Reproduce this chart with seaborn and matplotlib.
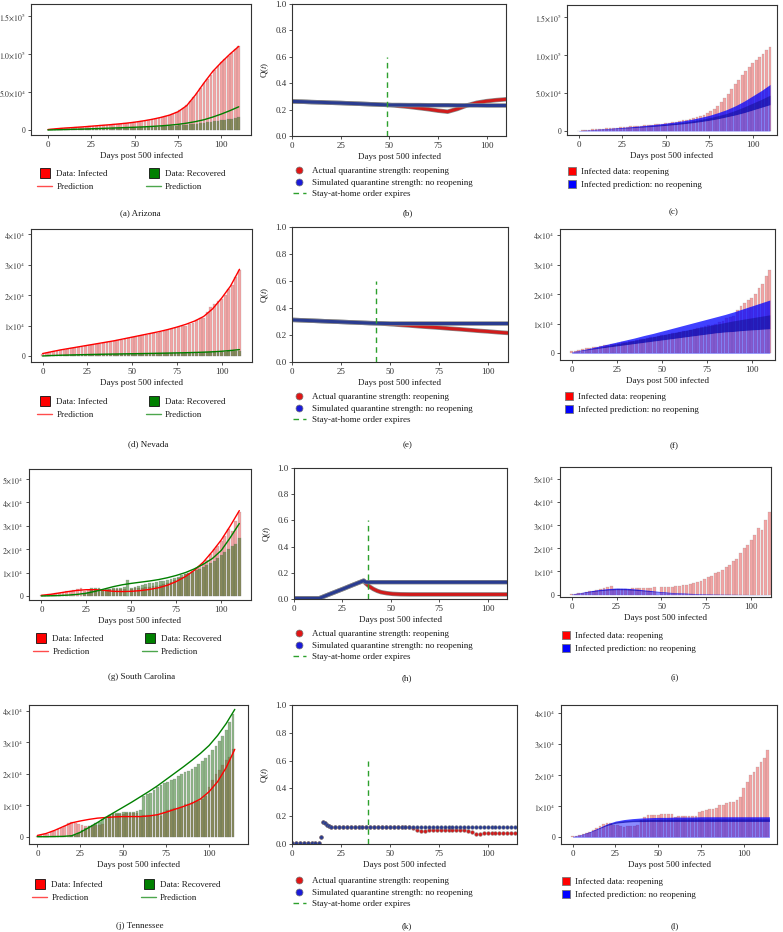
import numpy as np
import matplotlib
matplotlib.use("Agg")
import matplotlib.pyplot as plt
import matplotlib.patheffects as pe
from matplotlib.lines import Line2D
import seaborn as sns

W, H = 783, 932

# ---------------- data ----------------
DAYS_BAR = np.arange(0, 111, 2)
DAYS_BAR_TN = np.arange(0, 115, 2)
DAYS_LINE = np.arange(0, 111, 5)
DAYS_LINE_TN = np.arange(0, 116, 5)

# Arizona
AZ_INF = [600, 1000, 1400, 1800, 2100, 2500, 2800, 3100, 3400, 3800,
          4100, 4500, 4900, 5200, 5600, 6000, 6300, 6700, 7000, 7400,
          7800, 8200, 8700, 9200, 9800, 10400, 11000, 11700, 12400, 13200,
          14000, 14900, 15900, 17000, 18300, 19800, 21600, 23500, 26000, 29000,
          33000, 37500, 43000, 49000, 55000, 62000, 67000, 73000, 79000, 84000,
          89000, 93000, 97000, 101000, 106000, 110000]
AZ_REC = [0, 100, 200, 300, 400, 500, 600, 700, 800, 900,
          1000, 1100, 1200, 1300, 1400, 1500, 1600, 1800, 1900, 2000,
          2200, 2300, 2500, 2600, 2800, 3000, 3200, 3400, 3600, 3800,
          4000, 4200, 4400, 4700, 5000, 5300, 5600, 5900, 6300, 6700,
          7100, 7500, 8000, 8500, 9000, 9500, 10000, 10600, 11200, 11800,
          12500, 13200, 14000, 15000, 16200, 17500]
AZ_INF_PRED = [600, 1700, 2600, 3300, 4100, 5000, 5900, 6800, 7800, 8900, 10300, 12000,
               14000, 16500, 19500, 24000, 32000, 46000, 62000, 77000, 89000, 100000, 110000]
AZ_REC_PRED = [0, 300, 600, 900, 1200, 1600, 2000, 2400, 2800, 3200, 3600, 4100,
               4700, 5400, 6300, 7400, 9000, 11000, 13500, 17000, 21000, 25500, 30500]
AZ_Q_ACTUAL = [0.262, 0.260, 0.257, 0.255, 0.252, 0.250, 0.247, 0.244, 0.241, 0.238, 0.235, 0.228,
               0.221, 0.212, 0.203, 0.192, 0.184, 0.205, 0.232, 0.252, 0.264, 0.272, 0.278]
AZ_Q_SIM = [0.262, 0.260, 0.257, 0.255, 0.252, 0.250, 0.247, 0.244, 0.241, 0.238, 0.235, 0.235,
            0.234, 0.234, 0.233, 0.233, 0.233, 0.232, 0.232, 0.232, 0.231, 0.231, 0.231]
AZ_NR_LOW = [500, 1200, 1800, 2400, 3000, 3600, 4200, 4900, 5600, 6400, 7300, 8300,
             9400, 10700, 12200, 14000, 16000, 18500, 21000, 24000, 27500, 31000, 34500]
AZ_NR_MID = [500, 1300, 2000, 2700, 3400, 4100, 4900, 5700, 6600, 7600, 8700, 10000,
             11400, 13000, 15000, 17300, 20000, 23000, 27000, 31500, 36500, 41500, 47000]
AZ_NR_HIGH = [500, 1400, 2200, 3000, 3800, 4700, 5600, 6600, 7700, 8900, 10200, 11700,
              13400, 15400, 17800, 20500, 24000, 28000, 33000, 39000, 46000, 53000, 61000]

# Nevada
NV_INF = [700, 900, 1200, 1500, 1700, 1900, 2100, 2300, 2500, 2700,
          2900, 3100, 3300, 3500, 3700, 3900, 4100, 4300, 4500, 4700,
          4900, 5100, 5400, 5600, 5900, 6100, 6300, 6600, 6800, 7000,
          7300, 7500, 7700, 8000, 8200, 8500, 8800, 9100, 9400, 9700,
          10000, 10500, 11000, 11800, 12400, 12500, 14500, 16000, 17000, 18000,
          18800, 20000, 22000, 23500, 26000, 28300]
NV_REC = [0, 50, 100, 150, 200, 230, 260, 290, 320, 350,
          380, 400, 420, 440, 460, 480, 500, 520, 540, 560,
          580, 600, 620, 640, 660, 680, 700, 720, 740, 760,
          780, 800, 820, 840, 860, 880, 900, 920, 940, 960,
          980, 1000, 1030, 1060, 1100, 1150, 1200, 1250, 1300, 1350,
          1400, 1450, 1500, 1550, 1600, 1650]
NV_INF_PRED = [800, 1400, 2000, 2500, 3000, 3500, 4000, 4500, 5000, 5600, 6200, 6800,
               7400, 8000, 8700, 9500, 10400, 11500, 13000, 15500, 19000, 23000, 28500]
NV_REC_PRED = [0, 150, 250, 330, 400, 470, 530, 590, 640, 690, 740, 790,
               840, 890, 950, 1010, 1080, 1160, 1250, 1380, 1550, 1800, 2100]
NV_Q_ACTUAL = [0.312, 0.309, 0.306, 0.303, 0.300, 0.297, 0.294, 0.291, 0.288, 0.286, 0.280, 0.275,
               0.270, 0.264, 0.259, 0.254, 0.248, 0.243, 0.237, 0.231, 0.226, 0.220, 0.215]
NV_Q_SIM = [0.312, 0.309, 0.306, 0.303, 0.300, 0.297, 0.294, 0.291, 0.288, 0.286, 0.285, 0.285,
            0.285, 0.285, 0.285, 0.285, 0.285, 0.285, 0.285, 0.285, 0.285, 0.285, 0.285]
NV_NR_LOW = [500, 900, 1300, 1700, 2100, 2500, 2900, 3300, 3700, 4100, 4500, 4900,
             5300, 5700, 6100, 6500, 6900, 7200, 7400, 7700, 7900, 8100, 8300]
NV_NR_MID = [500, 1000, 1500, 2000, 2600, 3200, 3800, 4400, 5000, 5600, 6200, 6800,
             7400, 8000, 8600, 9200, 9800, 10400, 11000, 11500, 12000, 12500, 13000]
NV_NR_HIGH = [500, 1100, 1700, 2400, 3100, 3800, 4500, 5200, 6000, 6700, 7500, 8300,
              9100, 9900, 10700, 11500, 12300, 13100, 14000, 15000, 16000, 17000, 18000]

# South Carolina
SC_INF = [300, 500, 700, 900, 1200, 1400, 1700, 2000, 2300, 2700,
          3100, 3600, 2300, 2400, 2500, 2600, 2600, 2700, 2700, 2800,
          2900, 2900, 3000, 3100, 0, 3100, 3300, 3400, 3500, 3700,
          3800, 4100, 4300, 4600, 5200, 5400, 6000, 6700, 7500, 8200,
          9300, 9800, 10800, 11800, 12900, 14300, 15500, 18000, 20000, 21400,
          23600, 25700, 28600, 27900, 32000, 35700]
SC_REC = [0, 0, 0, 0, 0, 0, 0, 0, 0, 0,
          0, 0, 1200, 1500, 3400, 3500, 3500, 2500, 3000, 3200,
          3400, 3500, 3600, 3800, 7000, 3600, 4000, 4300, 4600, 5000,
          5400, 5700, 6000, 6300, 6600, 7000, 7400, 7800, 8300, 8800,
          9300, 9800, 10400, 11000, 11700, 12400, 13200, 14000, 15000, 16200,
          17500, 18800, 20000, 21500, 22300, 24700]
SC_INF_PRED = [300, 700, 1300, 1900, 2400, 2700, 2700, 2400, 2000, 1900, 2000, 2300,
               2800, 3500, 4600, 6200, 8300, 11000, 14500, 19000, 24000, 30000, 36500]
SC_REC_PRED = [0, 100, 200, 400, 700, 1200, 2000, 3000, 4000, 4800, 5400, 5900,
               6400, 7000, 7800, 8800, 10000, 11600, 13600, 16000, 19500, 25000, 31000]
SC_Q_DAYS = [0, 5, 10, 13, 20, 25, 30, 36, 37, 39, 41, 43, 45, 48, 51, 55, 60, 70, 80, 90, 100, 110]
SC_Q_ACTUAL = [0.005, 0.005, 0.005, 0.005, 0.046, 0.075, 0.105, 0.140, 0.120, 0.095, 0.076,
               0.062, 0.052, 0.044, 0.039, 0.036, 0.035, 0.035, 0.035, 0.035, 0.035, 0.035]
SC_Q_SIM = [0.005, 0.005, 0.005, 0.005, 0.046, 0.075, 0.105, 0.140, 0.128, 0.128, 0.128,
            0.128, 0.128, 0.128, 0.128, 0.128, 0.128, 0.128, 0.128, 0.128, 0.128, 0.128]
SC_NR_LOW = [300, 700, 1200, 1650, 2000, 2150, 2100, 1900, 1600, 1300, 1000, 760,
             600, 460, 340, 260, 190, 150, 110, 80, 60, 40, 30]
SC_NR_MID = [300, 800, 1400, 1900, 2300, 2500, 2450, 2200, 1850, 1500, 1150, 880,
             700, 530, 400, 300, 220, 170, 130, 90, 70, 50, 40]
SC_NR_HIGH = [300, 900, 1600, 2200, 2600, 2850, 2800, 2500, 2100, 1700, 1300, 1000,
              800, 600, 450, 350, 250, 200, 150, 100, 80, 60, 50]

# Tennessee
TN_INF = [300, 500, 700, 1000, 1400, 1800, 2300, 2900, 3500, 4200,
          4700, 4500, 4100, 3800, 3500, 3400, 3500, 3600, 3700, 4000,
          5500, 6500, 7200, 7200, 7300, 7300, 7400, 7400, 7400, 7500,
          6600, 6900, 7000, 6900, 6800, 6900, 6700, 8000, 8400, 8800,
          9000, 9200, 9500, 10300, 10500, 10900, 11200, 11500, 11900, 13000,
          15700, 17900, 20000, 21100, 22700, 24300, 25400, 28000]
TN_REC = [0, 0, 0, 0, 0, 0, 0, 0, 0, 0,
          200, 600, 1200, 2000, 2800, 3300, 3700, 4200, 4800, 5500,
          6300, 7000, 7400, 7500, 7600, 7700, 7800, 7900, 8000, 8200,
          8400, 13000, 13500, 14000, 15000, 15800, 16500, 17000, 17500, 18000,
          18500, 19200, 20000, 20500, 21000, 21500, 22300, 23000, 24000, 25000,
          26000, 27500, 29000, 30500, 32000, 34000, 36500, 39000]
TN_INF_PRED = [400, 1000, 2000, 3200, 4400, 5000, 5500, 5900, 6100, 6300, 6400, 6400,
               6400, 6600, 7000, 7800, 8700, 9600, 10600, 12000, 14300, 17500, 22000, 27800]
TN_REC_PRED = [0, 0, 50, 100, 300, 1400, 2900, 4500, 6200, 7800, 9400, 11000,
               12700, 14400, 16200, 18200, 20200, 22200, 24300, 26500, 29000, 32200, 36000, 40500]
TN_Q_DAYS = [0, 2, 4, 6, 8, 10, 12, 14, 15, 16, 17, 18, 19,
             20, 22, 24, 26, 28, 30, 32, 34, 36, 38, 40, 42, 44, 46, 48, 50, 52, 54, 56, 58, 60,
             62, 64, 66, 68, 70, 72, 74, 76, 78, 80, 82, 84, 86, 88, 90,
             92, 94, 96, 98, 100, 102, 104, 106, 108, 110, 112, 114]
TN_Q_SIM = [0.010, 0.010, 0.010, 0.010, 0.010, 0.010, 0.010, 0.010, 0.048, 0.156, 0.153, 0.134, 0.127,
            0.125, 0.125, 0.125, 0.125, 0.125, 0.125, 0.125, 0.125, 0.125, 0.125, 0.125, 0.125,
            0.125, 0.125, 0.125, 0.125, 0.125, 0.125, 0.125, 0.125, 0.125,
            0.125, 0.125, 0.125, 0.125, 0.125, 0.125, 0.125, 0.125, 0.125, 0.125, 0.125, 0.125,
            0.125, 0.125, 0.125, 0.125, 0.125, 0.125, 0.125, 0.125, 0.125, 0.125, 0.125, 0.125,
            0.125, 0.125, 0.125]
TN_Q_ACTUAL = [0.010, 0.010, 0.010, 0.010, 0.010, 0.010, 0.010, 0.010, 0.048, 0.156, 0.153, 0.134, 0.127,
               0.125, 0.125, 0.125, 0.125, 0.125, 0.125, 0.125, 0.125, 0.125, 0.125, 0.125, 0.125,
               0.125, 0.125, 0.125, 0.125, 0.125, 0.125, 0.125, 0.125, 0.125,
               0.112, 0.098, 0.097, 0.097, 0.098, 0.099, 0.100, 0.100, 0.101, 0.101, 0.101, 0.102,
               0.102, 0.101, 0.096, 0.083, 0.073, 0.074, 0.077, 0.078, 0.079, 0.080, 0.080, 0.080,
               0.081, 0.081, 0.081]
TN_NR_LOW = [300, 800, 1600, 2700, 3800, 4500, 4800, 5000, 5050, 5100, 5100, 5100,
             5100, 5100, 5100, 5100, 5100, 5100, 5100, 5100, 5100, 5100, 5100, 5100]
TN_NR_MID = [300, 850, 1700, 2850, 4100, 4900, 5300, 5500, 5650, 5700, 5750, 5800,
             5800, 5850, 5850, 5850, 5900, 5900, 5900, 5900, 5900, 5900, 5900, 5900]
TN_NR_HIGH = [300, 900, 1800, 3000, 4300, 5200, 5700, 6000, 6200, 6300, 6400, 6400,
              6500, 6500, 6500, 6600, 6600, 6600, 6600, 6600, 6600, 6600, 6600, 6600]

EXPIRE_DAY = {"AZ": 49, "NV": 43, "SC": 38, "TN": 39}

# ---------------- style ----------------
sns.set_theme(style="ticks")
plt.rcParams.update({
    "font.family": ["Liberation Serif", "DejaVu Serif"],
    "mathtext.fontset": "stix",
    "font.size": 6.5,
    "axes.labelsize": 6.5,
    "xtick.labelsize": 6.5,
    "ytick.labelsize": 6.5,
    "legend.fontsize": 6.5,
    "axes.edgecolor": "#333333",
    "axes.linewidth": 0.8,
    "xtick.major.size": 2.5,
    "ytick.major.size": 2.5,
    "xtick.major.width": 0.6,
    "ytick.major.width": 0.6,
    "xtick.major.pad": 2,
    "ytick.major.pad": 1.2,
    "xtick.color": "#333333",
    "ytick.color": "#333333",
    "text.color": "#1a1a1a",
    "axes.labelcolor": "#1a1a1a",
})

Q_RED = "#d01c1c"
Q_BLUE = "#2a3c90"
DASH_GREEN = "#2ca02c"

fig = plt.figure(figsize=(W / 100, H / 100), dpi=100)


def px_axes(left, top, right, bottom):
    return fig.add_axes([left / W, 1 - bottom / H, (right - left) / W, (bottom - top) / H])


def sci_labels(ticks, fmt):
    out = []
    for t in ticks:
        if t == 0:
            out.append("0")
        else:
            exp = int(np.floor(np.log10(t)))
            out.append(r"$" + fmt.format(t / 10 ** exp) + r"{\times}10^{" + str(exp) + "}$")
    return out


def case_axes(ax, xlim, ylim, yticks, fmt):
    ax.set_xlim(*xlim)
    ax.set_ylim(*ylim)
    ax.set_xticks([0, 25, 50, 75, 100])
    ax.set_xticklabels(["0", "25", "50", "75", "100"])
    ax.set_yticks(yticks)
    ax.set_yticklabels(sci_labels(yticks, fmt), fontsize=5.6)
    ax.set_xlabel("Days post 500 infected", labelpad=2)
    ax.set_ylabel("")


def bars(ax, days, vals, color, alpha):
    sns.barplot(x=days, y=vals, native_scale=True, orient="x", color=color, alpha=alpha,
                saturation=1, width=0.8, edgecolor="#7a7a7a", linewidth=0.3,
                errorbar=None, ax=ax)


def plot_cases(ax, days, inf, rec, inf_pred, rec_pred, line_days):
    bars(ax, days, inf, "#e02020", 0.4)
    bars(ax, days, rec, "#1f6e10", 0.5)
    sns.lineplot(x=line_days, y=inf_pred, color="red", lw=1.0, ax=ax)
    sns.lineplot(x=line_days, y=rec_pred, color="green", lw=1.0, ax=ax)


def plot_noreopen(ax, days, inf, line_days, low, mid, high):
    bars(ax, days, inf, "#e02020", 0.4)
    ax.fill_between(line_days, 0, low, color="blue", alpha=0.45, lw=0)
    ax.fill_between(line_days, low, high, color="blue", alpha=0.75, lw=0)
    ax.fill_between(line_days, low, mid, color="#000060", alpha=0.35, lw=0)


def plot_q(ax, days, actual, sim, expire, xmax, dots=False):
    if dots:
        sns.scatterplot(x=days, y=actual, color=Q_RED, s=7, edgecolor="#777777", linewidth=0.3, ax=ax)
        sns.scatterplot(x=days, y=sim, color=Q_BLUE, s=7, edgecolor="#777777", linewidth=0.3, ax=ax)
    else:
        stroke = [pe.Stroke(linewidth=3.2, foreground="#8a8a8a"), pe.Normal()]
        sns.lineplot(x=days, y=actual, color=Q_RED, lw=2.2, path_effects=stroke, ax=ax)
        sns.lineplot(x=days, y=sim, color=Q_BLUE, lw=2.2, path_effects=stroke, ax=ax)
    ax.vlines(expire, 0, 0.6, colors=DASH_GREEN, linestyles=(0, (4, 3)), lw=1)
    ax.set_xlim(0, xmax)
    ax.set_ylim(0, 1)
    ax.set_xticks([0, 25, 50, 75, 100])
    ax.set_yticks([0, 0.2, 0.4, 0.6, 0.8, 1.0])
    ax.set_yticklabels(["0.0", "0.2", "0.4", "0.6", "0.8", "1.0"])
    ax.set_xlabel("Days post 500 infected", labelpad=2)
    ax.set_ylabel(r"Q($t$)", labelpad=3)


def legend_at(ax, handles, labels, x, y, **kw):
    ax.legend(handles, labels, loc="upper left", bbox_to_anchor=(x / W, 1 - y / H),
              bbox_transform=fig.transFigure, frameon=False, borderpad=0, borderaxespad=0, **kw)


def cases_legend(ax, x, y):
    hs = [Line2D([], [], marker="s", ls="none", mfc="red", mec="#111111", mew=0.6, ms=6.5),
          Line2D([], [], color="red", lw=1, alpha=0.7),
          Line2D([], [], marker="s", ls="none", mfc="green", mec="#111111", mew=0.6, ms=6.5),
          Line2D([], [], color="green", lw=1, alpha=0.7)]
    legend_at(ax, hs, ["Data: Infected", "Prediction", "Data: Recovered", "Prediction"], x, y,
              ncol=2, handlelength=1.7, handletextpad=0.45, columnspacing=4.2, labelspacing=0.5)


def q_legend(ax, x, y):
    hs = [Line2D([], [], marker="o", ls="none", mfc="#e01515", mec="#777777", mew=0.5, ms=5),
          Line2D([], [], marker="o", ls="none", mfc="#1a1ad8", mec="#777777", mew=0.5, ms=5),
          Line2D([], [], color=DASH_GREEN, lw=1, ls=(0, (4, 3)))]
    legend_at(ax, hs, ["Actual quarantine strength: reopening",
                       "Simulated quarantine strength: no reopening",
                       "Stay-at-home order expires"], x, y,
              handlelength=1.4, handletextpad=0.75, labelspacing=0.35)


def nr_legend(ax, x, y):
    hs = [Line2D([], [], marker="s", ls="none", mfc="red", mec="#777777", mew=0.6, ms=6),
          Line2D([], [], marker="s", ls="none", mfc="blue", mec="#777777", mew=0.6, ms=6)]
    legend_at(ax, hs, ["Infected data: reopening", "Infected prediction: no reopening"], x, y,
              handlelength=1.0, handletextpad=0.6, labelspacing=0.45)


def caption(x, y, text):
    fig.text(x / W, 1 - y / H, text, ha="center", va="center", fontsize=6.5)


# ---------------- row 1: Arizona ----------------
ax = px_axes(31, 4, 251, 135)
plot_cases(ax, DAYS_BAR, AZ_INF, AZ_REC, AZ_INF_PRED, AZ_REC_PRED, DAYS_LINE)
case_axes(ax, (-9.8, 117.1), (-6600, 165800), [0, 50000, 100000, 150000], "{:.1f}")
cases_legend(ax, 37, 170)
caption(140, 213, "(a) Arizona")

ax = px_axes(292, 4, 506, 136)
plot_q(ax, DAYS_LINE, AZ_Q_ACTUAL, AZ_Q_SIM, EXPIRE_DAY["AZ"], 110)
q_legend(ax, 293, 167)
caption(408, 213, "(b)")

ax = px_axes(567, 5, 777, 135)
plot_noreopen(ax, DAYS_BAR, AZ_INF, DAYS_LINE, AZ_NR_LOW, AZ_NR_MID, AZ_NR_HIGH)
case_axes(ax, (-6.7, 114), (-5250, 165300), [0, 50000, 100000, 150000], "{:.1f}")
nr_legend(ax, 567, 168)
caption(674, 212, "(c)")

# ---------------- row 2: Nevada ----------------
ax = px_axes(31, 229, 252, 362)
plot_cases(ax, DAYS_BAR, NV_INF, NV_REC, NV_INF_PRED, NV_REC_PRED, DAYS_LINE)
case_axes(ax, (-6.5, 117), (-1980, 41750), [0, 10000, 20000, 30000, 40000], "{:.0f}")
cases_legend(ax, 37, 398)
caption(148, 444, "(d) Nevada")

ax = px_axes(292, 227, 508, 362)
plot_q(ax, DAYS_LINE, NV_Q_ACTUAL, NV_Q_SIM, EXPIRE_DAY["NV"], 110)
q_legend(ax, 293, 393)
caption(408, 445, "(e)")

ax = px_axes(560, 229, 775, 360)
plot_noreopen(ax, DAYS_BAR, NV_INF, DAYS_LINE, NV_NR_LOW, NV_NR_MID, NV_NR_HIGH)
case_axes(ax, (-6.5, 112.9), (-2260, 42000), [0, 10000, 20000, 30000, 40000], "{:.0f}")
nr_legend(ax, 564, 393)
caption(674, 446, "(f)")

# ---------------- row 3: South Carolina ----------------
ax = px_axes(29, 469, 251, 600)
plot_cases(ax, DAYS_BAR, SC_INF, SC_REC, SC_INF_PRED, SC_REC_PRED, DAYS_LINE)
case_axes(ax, (-6.9, 116.5), (-1714, 54300), [0, 10000, 20000, 30000, 40000, 50000], "{:.0f}")
cases_legend(ax, 33, 635)
caption(142, 677, "(g) South Carolina")

ax = px_axes(294, 468, 507, 599)
plot_q(ax, SC_Q_DAYS, SC_Q_ACTUAL, SC_Q_SIM, EXPIRE_DAY["SC"], 110)
q_legend(ax, 293, 630)
caption(407, 678, "(h)")

ax = px_axes(560, 467, 771, 597)
plot_noreopen(ax, DAYS_BAR, SC_INF, DAYS_LINE, SC_NR_LOW, SC_NR_MID, SC_NR_HIGH)
case_axes(ax, (-6.5, 111), (-1000, 55000), [0, 10000, 20000, 30000, 40000, 50000], "{:.0f}")
nr_legend(ax, 561, 632)
caption(675, 677, "(i)")

# ---------------- row 4: Tennessee ----------------
ax = px_axes(29, 705, 248, 844)
plot_cases(ax, DAYS_BAR_TN, TN_INF, TN_REC, TN_INF_PRED, TN_REC_PRED, DAYS_LINE_TN)
case_axes(ax, (-4.9, 122.7), (-2330, 41900), [0, 10000, 20000, 30000, 40000], "{:.0f}")
cases_legend(ax, 32, 881)
caption(140, 926, "(j) Tennessee")

ax = px_axes(292, 705, 517, 844)
plot_q(ax, TN_Q_DAYS, TN_Q_ACTUAL, TN_Q_SIM, EXPIRE_DAY["TN"], 115, dots=True)
q_legend(ax, 293, 877)
caption(407, 926, "(k)")

ax = px_axes(561, 705, 777, 844)
plot_noreopen(ax, DAYS_BAR_TN, TN_INF, DAYS_LINE_TN, TN_NR_LOW, TN_NR_MID, TN_NR_HIGH)
case_axes(ax, (-6.8, 119.4), (-2150, 42500), [0, 10000, 20000, 30000, 40000], "{:.0f}")
nr_legend(ax, 561, 878)
caption(675, 926, "(l)")

fig.savefig("out.png", dpi=100)
